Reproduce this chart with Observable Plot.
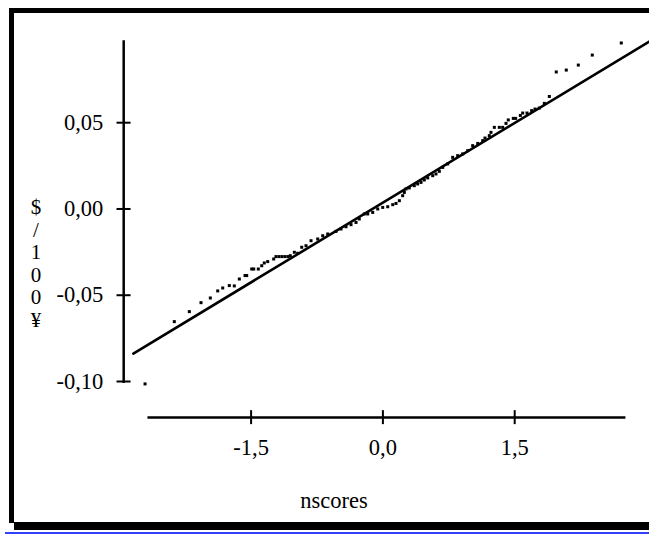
<!DOCTYPE html>
<html><head><meta charset="utf-8">
<script src="https://cdn.jsdelivr.net/npm/d3@7"></script>
<script src="https://cdn.jsdelivr.net/npm/@observablehq/plot@0.6"></script>
<style>
html,body{margin:0;padding:0;background:#fff;}
#wrap{position:relative;width:649px;height:535px;overflow:hidden;}
.bar{position:absolute;background:#000;}
#chart svg{position:absolute;left:0;top:0;}
</style></head><body>
<div id="wrap">
<div id="chart"></div>
<div class="bar" style="left:9px;top:8px;width:640px;height:5px"></div>
<div class="bar" style="left:9px;top:8px;width:5px;height:515px"></div>
<div class="bar" style="left:14px;top:522px;width:635px;height:8px"></div>
<div class="bar" style="left:5px;top:532px;width:644px;height:2px;background:#3340ff"></div>
</div>
<script>
// normal scores (x) and sample quantiles (y)
const nscores = [
-2.707,-2.374,-2.203,-2.070,-1.964,-1.880,-1.823,-1.748,-1.691,-1.634,
-1.569,-1.550,-1.493,-1.470,-1.418,-1.379,-1.350,-1.311,-1.243,-1.217,
-1.183,-1.149,-1.115,-1.081,-1.054,-1.008,-0.970,-0.924,-0.875,-0.818,
-0.742,-0.685,-0.628,-0.534,-0.477,-0.420,-0.363,-0.306,-0.269,-0.212,
-0.173,-0.116,-0.059,-0.002,0.055,0.112,0.149,0.187,0.225,0.244,
0.263,0.300,0.357,0.396,0.434,0.471,0.510,0.567,0.604,0.642,
0.681,0.737,0.794,0.851,0.908,0.965,1.022,1.079,1.136,1.162,
1.211,1.230,1.268,1.325,1.363,1.401,1.427,1.484,1.511,1.564,
1.591,1.640,1.693,1.731,1.780,1.837,1.894,1.973,2.087,2.224,
2.383,2.713
];
const values = [
-0.1014,-0.0653,-0.0595,-0.0543,-0.0516,-0.0475,-0.0458,-0.0444,-0.0446,-0.0406,
-0.0386,-0.0386,-0.0348,-0.0348,-0.0348,-0.0329,-0.0313,-0.0305,-0.0290,-0.0276,
-0.0276,-0.0276,-0.0276,-0.0276,-0.0271,-0.0251,-0.0257,-0.0222,-0.0213,-0.0184,
-0.0174,-0.0155,-0.0145,-0.0130,-0.0116,-0.0103,-0.0091,-0.0078,-0.0058,-0.0029,
-0.0029,-0.0020,0.0000,0.0009,0.0013,0.0025,0.0032,0.0048,0.0077,0.0096,
0.0116,0.0122,0.0135,0.0145,0.0154,0.0168,0.0180,0.0193,0.0203,0.0218,
0.0241,0.0261,0.0299,0.0309,0.0319,0.0338,0.0367,0.0380,0.0396,0.0411,
0.0425,0.0444,0.0473,0.0473,0.0473,0.0496,0.0516,0.0525,0.0525,0.0542,
0.0556,0.0556,0.0570,0.0579,0.0585,0.0612,0.0652,0.0794,0.0805,0.0834,
0.0892,0.0962
];
// reference line end points
const lineX = [-2.84, 3.04];
const lineY = [-0.0838, 0.0973];
// ticks
const xTicks = [-1.5, 0, 1.5];
const xTickLabels = ["-1,5", "0,0", "1,5"];
const yTicks = [-0.10, -0.05, 0, 0.05];
const yTickLabels = ["-0,10", "-0,05", "0,00", "0,05"];
const xLabel = "nscores";
const yLabel = "$\n/\n1\n0\n0\n¥";

// axis geometry (data units)
const yAxisAt = -2.95, yAxisTop = 0.0975, yAxisBottom = -0.1012;
const xAxisAt = -0.1209, xAxisLeft = -2.674, xAxisRight = 2.766;

const points = nscores.map((x, i) => ({x, y: values[i]}));
const refLine = lineX.map((x, i) => ({x, y: lineY[i]}));

const chart = Plot.plot({
  width: 649, height: 535, margin: 0,
  style: {background: "transparent", fontFamily: "'Liberation Serif','Times New Roman',serif", fontSize: "22.5px", color: "#000"},
  x: {domain: [-1.5, 1.5], range: [250.6, 514.2], axis: null},
  y: {domain: [-0.10, 0.05], range: [381, 122.2], axis: null},
  marks: [
    Plot.ruleX([yAxisAt], {x: d => d, y1: yAxisTop, y2: yAxisBottom, stroke: "#000", strokeWidth: 2.5}),
    Plot.ruleY([xAxisAt], {y: d => d, x1: xAxisLeft, x2: xAxisRight, stroke: "#000", strokeWidth: 2.5}),
    Plot.ruleY(yTicks, {y: d => d, x1: -3.026, x2: -2.866, stroke: "#000", strokeWidth: 2}),
    Plot.ruleX(xTicks, {x: d => d, y1: -0.1169, y2: -0.1250, stroke: "#000", strokeWidth: 2}),
    Plot.text(yTicks, {y: d => d, x: -3.182, text: (d, i) => yTickLabels[i], textAnchor: "end", fill: "#000"}),
    Plot.text(xTicks, {x: d => d, y: -0.1383, text: (d, i) => xTickLabels[i], fill: "#000"}),
    Plot.text([xLabel], {x: -0.556, y: -0.1690, text: d => d, fill: "#000"}),
    Plot.text([yLabel], {x: -3.948, y: 0.0062, text: d => d, lineAnchor: "top", lineHeight: 1.07, fontSize: 21, fill: "#000"}),
    Plot.line(refLine, {x: "x", y: "y", stroke: "#000", strokeWidth: 2.6}),
    Plot.dot(points, {x: "x", y: "y", symbol: "square", r: 1.7, fill: "#000", stroke: null})
  ]
});
document.getElementById("chart").appendChild(chart);
</script>
</body></html>
